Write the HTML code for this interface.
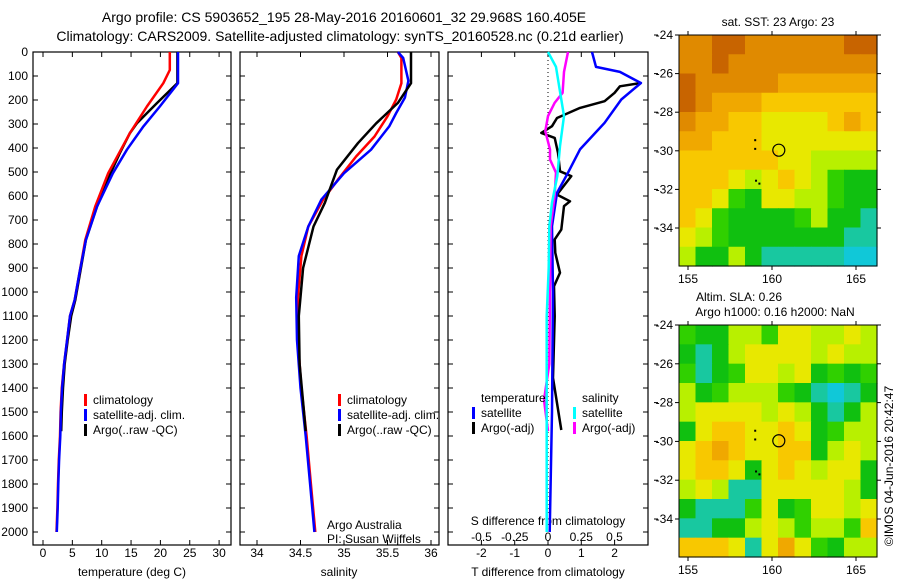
<!DOCTYPE html>
<html><head><meta charset="utf-8"><style>
body{margin:0;background:#fff;width:900px;height:580px;overflow:hidden}
svg{font-family:"Liberation Sans",sans-serif;display:block}
</style></head><body>
<svg id="fig" width="900" height="580" viewBox="0 0 900 580" xmlns="http://www.w3.org/2000/svg">
<text x="344" y="22" font-size="14" text-anchor="middle">Argo profile: CS 5903652_195 28-May-2016 20160601_32 29.968S 160.405E</text>
<text x="340" y="41" font-size="14" text-anchor="middle">Climatology: CARS2009. Satellite-adjusted climatology: synTS_20160528.nc (0.21d earlier)</text>
<g id="g"></g>
</svg>
<script>
// ---- data ----
const tClimDepth=[0,75,130,227,338,505,644,783,922,1033,1100,1200,1300,1400,1500,1600,1700,1800,1900,2000];
const tClimVal=[21.6,21.6,20.5,17.7,14.8,11.1,8.9,7.2,6.2,5.4,4.6,4.1,3.6,3.2,3.0,2.9,2.7,2.55,2.45,2.3];
const tSatDepth=[0,130,227,310,407,505,644,783,922,1033,1100,1200,1300,1400,1500,1600,1700,1800,1900,2000];
const tSatVal=[23.0,23.0,19.9,17.1,14.3,11.9,9.2,7.3,6.2,5.4,4.6,4.1,3.6,3.25,3.05,2.95,2.75,2.6,2.5,2.35];
const tArgoDepth=[0,130,213,297,338,421,505,644,783,922,1033,1100,1200,1300,1400,1500,1580];
const tArgoVal=[22.9,22.9,19.4,16.0,14.8,13.1,11.5,9.2,7.3,6.3,5.5,4.8,4.2,3.7,3.4,3.2,3.1];
const sClimDepth=[0,25,130,198,268,352,435,532,615,727,850,1023,1200,1400,1600,1800,2000];
const sClimVal=[35.62,35.66,35.66,35.6,35.5,35.35,35.14,34.93,34.76,34.59,34.51,34.47,34.47,34.51,34.57,34.62,34.67];
const sSatDepth=[0,25,120,190,254,310,407,505,615,727,850,1023,1200,1400,1600,1800,2000];
const sSatVal=[35.62,35.68,35.74,35.7,35.6,35.52,35.31,35.0,34.74,34.59,34.48,34.45,34.46,34.5,34.56,34.61,34.66];
const sArgoDepth=[0,130,212,297,380,490,628,727,900,1100,1300,1500,1580];
const sArgoVal=[35.77,35.77,35.62,35.37,35.16,34.92,34.78,34.65,34.53,34.48,34.49,34.54,34.56];
const dTSatDepth=[0,62,83,129,198,295,406,503,587,726,1000,1500,2000];
const dTSatVal=[1.32,1.44,2.16,2.79,2.2,1.7,0.96,0.6,0.27,0.12,0.15,0.12,0.05];
const dTArgoDepth=[129,143,170,205,233,275,309,337,358,420,497,517,594,622,642,740,781,837,920,976,1100,1358,1575];
const dTArgoVal=[2.79,2.16,2.0,1.7,0.96,0.27,0.12,-0.2,0.2,0.3,0.36,0.7,0.27,0.66,0.48,0.4,0.2,0.22,0.36,0.18,0.2,0.15,0.4];
const dSSatDepth=[0,62,198,267,392,517,628,726,900,1100,1500,2000];
const dSSatVal=[0,0.06,0.1,0.12,0.09,0.07,0.03,0.01,0.005,-0.01,-0.01,-0.01];
const dSArgoDepth=[0,83,170,212,267,330,406,448,503,601,726,1000,1300,1450,1580];
const dSArgoVal=[0.15,0.12,0.11,0.05,0,-0.02,0.015,0.015,0.06,0.05,0.02,0.015,0.01,-0.03,0.0];
const depthTicks=[0,100,200,300,400,500,600,700,800,900,1000,1100,1200,1300,1400,1500,1600,1700,1800,1900,2000];
const tTicks=[0,5,10,15,20,25,30];
const sTicks=[34,34.5,35,35.5,36];
const dTTicks=[-2,-1,0,1,2];
const dSTicks=[-0.5,-0.25,0,0.25,0.5];
const dSTickLabels=["-0.5","-0.25","0","0.25","0.5"];
const lonTicks=[155,160,165];
const latTicks=[-24,-26,-28,-30,-32,-34];
const sstGrid=[
[8,8,9,9,8,8,8,8,8,8,9,9],[8,8,9,8,8,8,8,8,8,8,8,8],[9,8,8,8,8,8,7,7,7,7,7,7],
[9,8,7,7,7,6,6,6,6,6,6,6],[8,7,7,6,6,5,5,5,5,6,7,6],[7,7,6,6,6,5,5,5,5,5,5,5],
[6,6,6,6,6,6,5,5,4,4,4,4],[6,6,6,5,4,5,6,5,4,3,2,2],[6,6,5,3,2,5,5,4,4,3,2,2],
[6,5,3,2,2,2,2,3,4,2,2,1],[5,4,3,2,2,2,2,2,2,2,1,1],[4,2,2,4,2,1,1,1,1,1,0,0]];
const slaGrid=[
[3,2,2,4,4,3,5,5,4,4,5,4],[2,1,2,4,5,5,5,5,4,5,4,4],[3,1,2,3,5,5,4,5,2,3,2,3],
[4,2,3,4,4,4,3,2,1,0,1,2],[4,5,5,5,5,4,5,4,2,1,2,4],[2,5,6,6,5,5,6,5,2,3,4,4],
[5,6,7,6,5,5,6,6,2,4,5,4],[5,6,6,5,2,5,6,5,4,5,5,2],[4,5,4,1,1,5,5,5,5,5,4,2],
[2,1,1,1,3,5,2,3,5,5,4,5],[1,1,2,2,4,5,4,3,4,4,3,6],[6,6,6,5,1,5,7,5,3,2,4,4]];
const palette=["#10c8d8","#18c8a0","#10c010","#30d000","#b8f000","#e8e800","#f8c800","#f0a800","#e08a00","#c86400"];
const profileLon=160.405, profileLat=-29.968;

const NS="http://www.w3.org/2000/svg";
const G=document.getElementById('g');
function el(tag,attrs,parent){const e=document.createElementNS(NS,tag);for(const k in attrs)e.setAttribute(k,attrs[k]);(parent||G).appendChild(e);return e;}
function txt(x,y,s,size,anchor){const t=el('text',{x:x,y:y,'font-size':size||12,'text-anchor':anchor||'start'});t.textContent=s;return t;}
const yD=d=>52+d*0.24;
const xT=v=>43+v*5.87;
const xS=v=>257+(v-34)*87;
const xdT=v=>548+v*33.3;
const xdS=v=>548+v*133;

function panel(x0,x1,name){
  const r=el('rect',{x:x0,y:52,width:x1-x0,height:493,fill:'none',stroke:'#000','stroke-width':1.2});
  
  
  depthTicks.forEach(d=>{
    el('line',{x1:x0,x2:x0+5,y1:yD(d),y2:yD(d),stroke:'#000'});
    el('line',{x1:x1-5,x2:x1,y1:yD(d),y2:yD(d),stroke:'#000'});
  });
}
function xticks(ticks,f,labels,y){
  ticks.forEach((v,i)=>{
    el('line',{x1:f(v),x2:f(v),y1:52,y2:57,stroke:'#000'});
    el('line',{x1:f(v),x2:f(v),y1:540,y2:545,stroke:'#000'});
    const t=txt(f(v),y,labels?labels[i]:String(v),12,'middle');
    
    
  });
}
function line(depths,vals,fx,color,w,name){
  const pts=depths.map((d,i)=>fx(vals[i]).toFixed(1)+','+yD(d).toFixed(1)).join(' ');
  const p=el('polyline',{points:pts,fill:'none',stroke:color,'stroke-width':w,'stroke-linejoin':'round'});
  
  
}
function legend(x,y,items){
  items.forEach((it,i)=>{
    el('rect',{x:x,y:y+i*15-9,width:3,height:12,fill:it[1]});
    const t=txt(x+9,y+i*15+1,it[0],12);
    
    
  });
}
depthTicks.forEach(d=>{const t=txt(28,yD(d)+4,String(d),12,'end');});

panel(33,231,'temperature-panel');
xticks(tTicks,xT,null,557);
line(tArgoDepth,tArgoVal,xT,'#000',2.5,'temp-argo-line');
line(tClimDepth,tClimVal,xT,'#f00',2.5,'temp-climatology-line');
line(tSatDepth,tSatVal,xT,'#00f',2.5,'temp-satellite-line');
txt(132,576,'temperature (deg C)',12,'middle');
legend(84,403,[['climatology','#f00'],['satellite-adj. clim.','#00f'],['Argo(..raw -QC)','#000']]);

panel(240,439,'salinity-panel');
xticks(sTicks,xS,null,557);
line(sClimDepth,sClimVal,xS,'#f00',2.5,'salinity-climatology-line');
line(sSatDepth,sSatVal,xS,'#00f',2.5,'salinity-satellite-line');
line(sArgoDepth,sArgoVal,xS,'#000',2.5,'salinity-argo-line');
txt(339,576,'salinity',12,'middle');
legend(338,403,[['climatology','#f00'],['satellite-adj. clim.','#00f'],['Argo(..raw -QC)','#000']]);
txt(327,529,'Argo Australia',12);
txt(327,543,'PI: Susan Wijffels',12);

panel(448,648,'difference-panel');
el('line',{x1:548,x2:548,y1:52,y2:515,stroke:'#000','stroke-dasharray':'1,3'});
dTTicks.forEach(v=>{el('line',{x1:xdT(v),x2:xdT(v),y1:52,y2:57,stroke:'#000'});el('line',{x1:xdT(v),x2:xdT(v),y1:540,y2:545,stroke:'#000'});const t=txt(xdT(v),557,String(v),12,'middle');});
dSTicks.forEach((v,i)=>{const t=txt(xdS(v),541,dSTickLabels[i],12,'middle');});
txt(548,525,'S difference from climatology',12,'middle');
txt(548,576,'T difference from climatology',12,'middle');
line(dTArgoDepth,dTArgoVal,xdT,'#000',2.5,'t-diff-argo-line');
line(dTSatDepth,dTSatVal,xdT,'#00f',2.5,'t-diff-satellite-line');
line(dSArgoDepth,dSArgoVal,xdS,'#f0f',2.5,'s-diff-argo-line');
line(dSSatDepth,dSSatVal,xdS,'#0ff',2.5,'s-diff-satellite-line');
txt(481,402,'temperature',12);
legend(472,416,[['satellite','#00f'],['Argo(-adj)','#000']]);
txt(582,402,'salinity',12);
legend(573,416,[['satellite','#0ff'],['Argo(-adj)','#f0f']]);

function map(top,bottom,lat24y,latScale,grid,name){
  const x0=679,x1=877,lonX=l=>688+(l-155)*16.8,latY=l=>lat24y+(-24-l)*latScale;
  const g=el('g',{});
  
  
  const nr=grid.length,nc=grid[0].length,cw=(x1-x0)/nc,ch=(bottom-top)/nr;
  grid.forEach((row,r)=>row.forEach((v,c)=>{
    const cell=el('rect',{x:x0+c*cw,y:top+r*ch,width:cw+0.6,height:ch+0.6,fill:palette[v]},g);
    
    
  }));
  el('rect',{x:x0,y:top,width:x1-x0,height:bottom-top,fill:'none',stroke:'#000'});
  lonTicks.forEach(l=>{el('line',{x1:lonX(l),x2:lonX(l),y1:top-4,y2:top,stroke:'#000'});el('line',{x1:lonX(l),x2:lonX(l),y1:bottom,y2:bottom+4,stroke:'#000'});const t=txt(lonX(l),bottom+17,String(l),12,'middle');});
  latTicks.forEach(l=>{el('line',{x1:x0-4,x2:x0,y1:latY(l),y2:latY(l),stroke:'#000'});el('line',{x1:x1,x2:x1+4,y1:latY(l),y2:latY(l),stroke:'#000'});el('line',{x1:654,x2:658,y1:latY(l),y2:latY(l),stroke:'#000'});const t=txt(673,latY(l)+4,String(l),12,'end');});
  const c=el('circle',{cx:lonX(profileLon),cy:latY(profileLat),r:6,fill:'none',stroke:'#000','stroke-width':1.2});
  
  
  [[159,-29.45],[159,-29.9],[159.05,-31.55],[159.25,-31.7]].forEach(p=>el('rect',{x:lonX(p[0])-1,y:latY(p[1])-1,width:2,height:2,fill:'#000'}));
}
map(35,266,35,19.3,sstGrid,'sst-map');
map(325,557,325,19.4,slaGrid,'sla-map');
txt(778,26,'sat. SST: 23 Argo: 23',12,'middle');
txt(739,301,'Altim. SLA: 0.26',12,'middle');
txt(775,316,'Argo h1000: 0.16 h2000: NaN',12,'middle');
const cr=txt(0,0,'©IMOS 04-Jun-2016 20:42:47',12,'middle');
cr.setAttribute('transform','translate(893,466) rotate(-90)');


</script>
</body></html>
